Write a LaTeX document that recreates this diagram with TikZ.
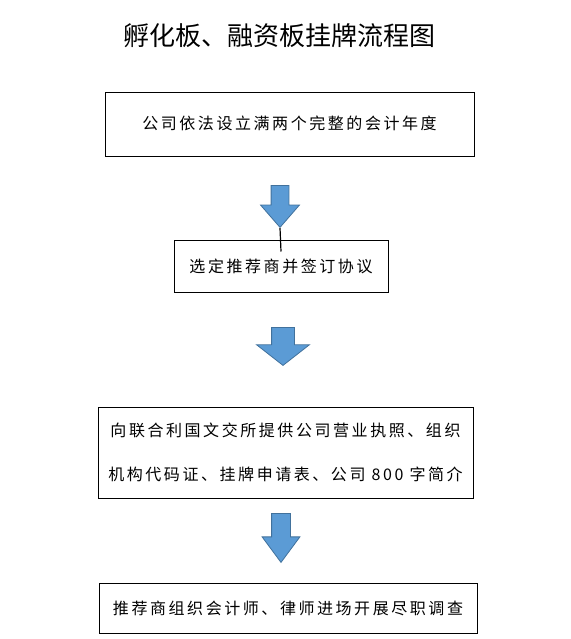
\documentclass[tikz,border=0pt]{standalone}
\usepackage{fontspec}
\usepackage{tikz}
\usetikzlibrary{shapes.arrows}
\newfontfamily\cjk{Noto Sans CJK SC}
\newfontfamily\cjkspaced{Noto Sans CJK SC}[LetterSpace=16]
\definecolor{arrowfill}{HTML}{5B9BD5}
\definecolor{arrowline}{HTML}{41719C}

\begin{document}
\begin{tikzpicture}[x=1pt,y=-1pt,
      box/.style={draw,line width=1pt,align=center,inner sep=0pt,
                  font=\cjkspaced\fontsize{16}{44}\selectfont},
      blockarrow/.style={single arrow,rotate=-90,
                  fill=arrowfill,draw=arrowline,line width=0.8pt,
                  inner xsep=0pt,anchor=tail},
      tick/.style={line width=1.2pt}]
    \useasboundingbox (0,0) rectangle (570,639);
    \node[font=\cjk\fontsize{26}{30}\selectfont] (title) at (279,36)
      {孵化板、融资板挂牌流程图};

    \node[box,minimum width=369pt,minimum height=64pt] (years) at (289.5,125)
      {\raisebox{4pt}{公司依法设立满两个完整的会计年度}};
    \node[blockarrow,minimum height=42pt,inner ysep=8.5pt,
          single arrow head extend=10.5pt,single arrow tip angle=82]
          (arrA) at (280,185) {};

    \node[box,minimum width=214pt,minimum height=52pt] (select) at (281,266)
      {选定推荐商并签订协议};
    \draw[tick] (arrA.tip) -- ([yshift=-12pt]select.north);
    \node[blockarrow,minimum height=38pt,inner ysep=11pt,
          single arrow head extend=15pt,single arrow tip angle=104]
          (arrB) at (283,327) {};

    \node[box,minimum width=375pt,minimum height=91pt] (submit) at (285.5,452.5)
      {向联合利国文交所提供公司营业执照、组织\\
       机构代码证、挂牌申请表、公司 800 字简介};
    \node[blockarrow,minimum height=49pt,inner ysep=9pt,
          single arrow head extend=9.5pt,single arrow tip angle=73]
          (arrC) at (281,513) {};

    \node[box,minimum width=378pt,minimum height=50pt] (review) at (288,608)
      {推荐商组织会计师、律师进场开展尽职调查};
  \end{tikzpicture}
\end{document}
